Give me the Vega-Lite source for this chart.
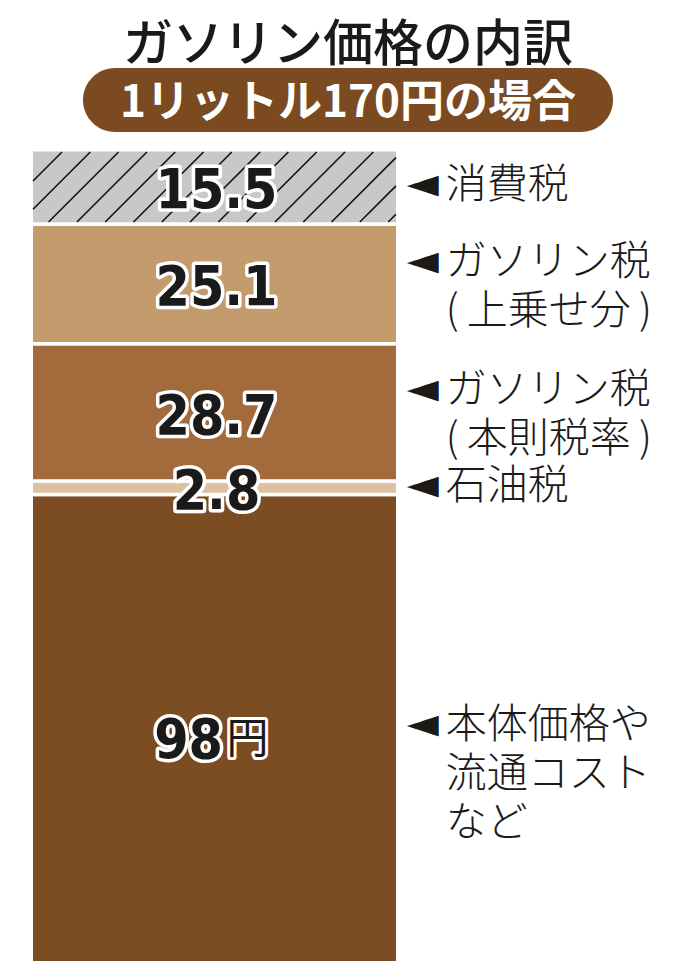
{
  "$schema": "https://vega.github.io/schema/vega-lite/v6.json",
  "padding": {"left": 0, "right": 0, "top": 21, "bottom": 0},
  "autosize": {"type": "pad"},
  "background": "white",
  "title": {"text": "ガソリン価格の内訳", "font": "Noto Sans CJK JP", "fontSize": 50, "fontWeight": 500, "color": "#1a1a1a", "anchor": "middle", "offset": -3},
  "spacing": 10,
  "center": true,
  "config": {"view": {"stroke": null}},
  "vconcat": [
    {
      "width": 530,
      "height": 64,
      "data": {"values": [{"label": "1リットル170円の場合"}]},
      "layer": [
        {
          "mark": {"type": "bar", "cornerRadius": 32, "color": "#7b4a21"},
          "encoding": {
            "x": {"field": "label", "type": "nominal", "axis": null, "scale": {"paddingInner": 0, "paddingOuter": 0}}
          }
        },
        {
          "mark": {"type": "text", "color": "white", "font": "Noto Sans CJK JP", "fontWeight": "bold", "fontSize": 44, "baseline": "middle", "align": "center", "dy": 3.5},
          "encoding": {
            "x": {"field": "label", "type": "nominal", "axis": null},
            "text": {"field": "label", "type": "nominal"}
          }
        }
      ]
    },
    {
      "width": 696,
      "height": 836,
      "data": {"values": [
        {"item": "本体価格や流通コストなど", "value": 98, "order": 1, "unit": "円", "l1": "本体価格や", "l2": "流通コスト", "l3": "など"},
        {"item": "石油税", "value": 2.8, "order": 2, "l1": "石油税"},
        {"item": "ガソリン税(本則税率)", "value": 28.7, "order": 3, "l1": "ガソリン税", "l2": "(\u2009本則税率\u2009)"},
        {"item": "ガソリン税(上乗せ分)", "value": 25.1, "order": 4, "l1": "ガソリン税", "l2": "(\u2009上乗せ分\u2009)"},
        {"item": "消費税", "value": 15.5, "order": 5, "l1": "消費税"}
      ]},
      "transform": [
        {"stack": "value", "groupby": [], "sort": [{"field": "order", "order": "ascending"}], "as": ["v0", "v1"]},
        {"calculate": "(datum.v0 + datum.v1) / 2", "as": "mid"},
        {"calculate": "datum.l3 ? datum.mid + 1.2 : (datum.l2 ? datum.mid + 5.1 : datum.mid + 0.8)", "as": "ly"}
      ],
      "layer": [
        {
          "mark": {"type": "rect", "stroke": "white", "strokeWidth": 3.5},
          "encoding": {
            "x": {"datum": 0, "type": "quantitative", "scale": {"domain": [-0.08527, 1.8138], "nice": false, "zero": false}, "axis": null},
            "x2": {"datum": 1},
            "y": {"field": "v0", "type": "quantitative", "scale": {"domain": [-3.191, 171.74], "nice": false, "zero": false}, "axis": null},
            "y2": {"field": "v1"},
            "color": {
              "field": "item", "type": "nominal", "legend": null,
              "scale": {
                "domain": ["本体価格や流通コストなど", "石油税", "ガソリン税(本則税率)", "ガソリン税(上乗せ分)", "消費税"],
                "range": ["#7c4c22", "#dcc2a2", "#a36b3b", "#c49b6d", "#c8c8c8"]
              }
            }
          }
        },
        {
          "data": {"values": [
            {"hx": 0.0839, "hy": 169.65, "hx2": 0.00477, "hy2": 163.58},
            {"hx": 0.1611, "hy": 169.65, "hx2": 0.00477, "hy2": 157.66},
            {"hx": 0.2383, "hy": 169.65, "hx2": 0.0473, "hy2": 155.0},
            {"hx": 0.3156, "hy": 169.65, "hx2": 0.1246, "hy2": 155.0},
            {"hx": 0.3928, "hy": 169.65, "hx2": 0.2018, "hy2": 155.0},
            {"hx": 0.4700, "hy": 169.65, "hx2": 0.2790, "hy2": 155.0},
            {"hx": 0.5472, "hy": 169.65, "hx2": 0.3562, "hy2": 155.0},
            {"hx": 0.6244, "hy": 169.65, "hx2": 0.4334, "hy2": 155.0},
            {"hx": 0.7016, "hy": 169.65, "hx2": 0.5106, "hy2": 155.0},
            {"hx": 0.7789, "hy": 169.65, "hx2": 0.5879, "hy2": 155.0},
            {"hx": 0.8561, "hy": 169.65, "hx2": 0.6651, "hy2": 155.0},
            {"hx": 0.9333, "hy": 169.65, "hx2": 0.7423, "hy2": 155.0},
            {"hx": 0.9952, "hy": 168.48, "hx2": 0.8195, "hy2": 155.0},
            {"hx": 0.9952, "hy": 162.56, "hx2": 0.8967, "hy2": 155.0},
            {"hx": 0.9952, "hy": 156.63, "hx2": 0.9739, "hy2": 155.0}
          ]},
          "mark": {"type": "rule", "stroke": "#111111", "strokeWidth": 1.6},
          "encoding": {
            "x": {"field": "hx", "type": "quantitative"},
            "x2": {"field": "hx2"},
            "y": {"field": "hy", "type": "quantitative"},
            "y2": {"field": "hy2"}
          }
        },
        {
          "transform": [{"filter": "datum.value < 50"}],
          "mark": {"type": "text", "font": "DejaVu Sans Condensed, DejaVu Sans", "fontWeight": "bold", "fontSize": 55, "fill": "white", "stroke": "white", "strokeWidth": 7, "strokeJoin": "round", "align": "center", "baseline": "middle", "dx": 2, "dy": 4.5},
          "encoding": {
            "x": {"datum": 0.5, "type": "quantitative"},
            "y": {"field": "mid", "type": "quantitative"},
            "text": {"field": "value", "type": "nominal"}
          }
        },
        {
          "transform": [{"filter": "datum.value < 50"}],
          "mark": {"type": "text", "font": "DejaVu Sans Condensed, DejaVu Sans", "fontWeight": "bold", "fontSize": 55, "fill": "#1a1a1a", "align": "center", "baseline": "middle", "dx": 2, "dy": 4.5},
          "encoding": {
            "x": {"datum": 0.5, "type": "quantitative"},
            "y": {"field": "mid", "type": "quantitative"},
            "text": {"field": "value", "type": "nominal"}
          }
        },
        {
          "transform": [{"filter": "datum.value >= 50"}],
          "mark": {"type": "text", "font": "DejaVu Sans Condensed, DejaVu Sans", "fontWeight": "bold", "fontSize": 55, "fill": "white", "stroke": "white", "strokeWidth": 7, "strokeJoin": "round", "align": "right", "baseline": "middle", "dx": 8.5, "dy": 12},
          "encoding": {
            "x": {"datum": 0.5, "type": "quantitative"},
            "y": {"field": "mid", "type": "quantitative"},
            "text": {"field": "value", "type": "nominal"}
          }
        },
        {
          "transform": [{"filter": "datum.value >= 50"}],
          "mark": {"type": "text", "font": "DejaVu Sans Condensed, DejaVu Sans", "fontWeight": "bold", "fontSize": 55, "fill": "#1a1a1a", "align": "right", "baseline": "middle", "dx": 8.5, "dy": 12},
          "encoding": {
            "x": {"datum": 0.5, "type": "quantitative"},
            "y": {"field": "mid", "type": "quantitative"},
            "text": {"field": "value", "type": "nominal"}
          }
        },
        {
          "transform": [{"filter": "datum.unit"}],
          "mark": {"type": "text", "font": "Noto Sans CJK JP", "fontSize": 42, "fill": "white", "stroke": "white", "strokeWidth": 6, "strokeJoin": "round", "align": "left", "baseline": "middle", "dx": 12, "dy": 11.5},
          "encoding": {
            "x": {"datum": 0.5, "type": "quantitative"},
            "y": {"field": "mid", "type": "quantitative"},
            "text": {"field": "unit", "type": "nominal"}
          }
        },
        {
          "transform": [{"filter": "datum.unit"}],
          "mark": {"type": "text", "font": "Noto Sans CJK JP", "fontSize": 42, "fill": "#1a1a1a", "align": "left", "baseline": "middle", "dx": 12, "dy": 11.5},
          "encoding": {
            "x": {"datum": 0.5, "type": "quantitative"},
            "y": {"field": "mid", "type": "quantitative"},
            "text": {"field": "unit", "type": "nominal"}
          }
        },
        {
          "mark": {"type": "text", "font": "DejaVu Sans", "fontSize": 42, "fill": "#1a1a1a", "align": "center", "baseline": "middle", "dx": 25, "dy": 1},
          "encoding": {
            "x": {"datum": 1, "type": "quantitative"},
            "y": {"field": "ly", "type": "quantitative"},
            "text": {"value": "◄"}
          }
        },
        {
          "mark": {"type": "text", "font": "Noto Sans CJK JP", "fontWeight": 300, "fontSize": 41, "fill": "#1a1a1a", "align": "left", "baseline": "middle", "dx": 48, "dy": 3},
          "encoding": {
            "x": {"datum": 1, "type": "quantitative"},
            "y": {"field": "ly", "type": "quantitative"},
            "text": {"field": "l1", "type": "nominal"}
          }
        },
        {
          "transform": [{"filter": "datum.l2"}],
          "mark": {"type": "text", "font": "Noto Sans CJK JP", "fontWeight": 300, "fontSize": 41, "fill": "#1a1a1a", "align": "left", "baseline": "middle", "dx": 48, "dy": 52},
          "encoding": {
            "x": {"datum": 1, "type": "quantitative"},
            "y": {"field": "ly", "type": "quantitative"},
            "text": {"field": "l2", "type": "nominal"}
          }
        },
        {
          "transform": [{"filter": "datum.l3"}],
          "mark": {"type": "text", "font": "Noto Sans CJK JP", "fontWeight": 300, "fontSize": 41, "fill": "#1a1a1a", "align": "left", "baseline": "middle", "dx": 48, "dy": 101},
          "encoding": {
            "x": {"datum": 1, "type": "quantitative"},
            "y": {"field": "ly", "type": "quantitative"},
            "text": {"field": "l3", "type": "nominal"}
          }
        }
      ]
    }
  ]
}
